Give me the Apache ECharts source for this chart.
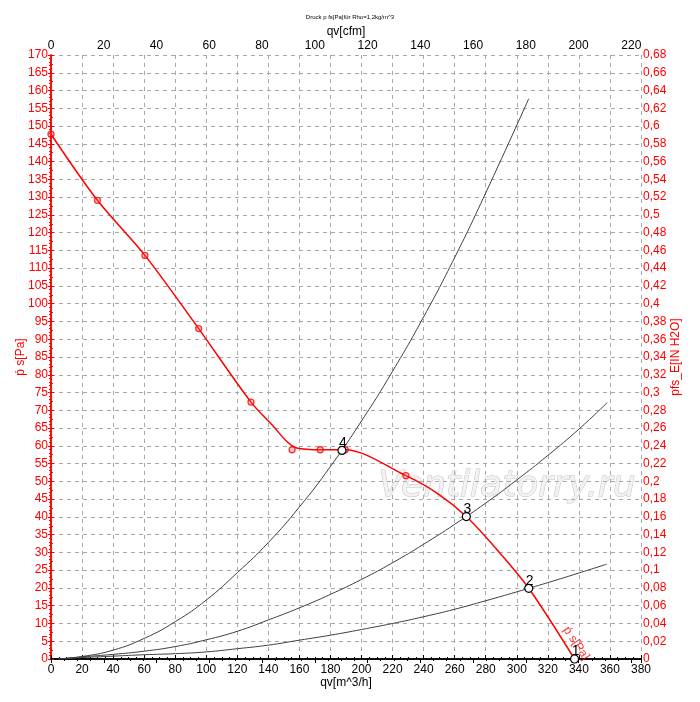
<!DOCTYPE html>
<html>
<head>
<meta charset="utf-8">
<script src="https://cdn.jsdelivr.net/npm/echarts@6/dist/echarts.min.js"></script>
<style>
  html, body { margin: 0; padding: 0; background: #fff; }
  #chart { width: 700px; height: 702px; }
</style>
</head>
<body>
<div id="chart"></div>
<script>
// fan curve (red), qv in m^3/h, static pressure in Pa
const fanFlow = [0, 29.9, 60.5, 95.1, 128.8, 143.2, 151.9, 158.3, 173.4, 189.5, 228.6, 248.6, 267.5, 287.4, 307.7, 337.2];
const fanPressure = [147.7, 129.1, 113.6, 93.0, 72.3, 65.5, 61.2, 59.4, 58.9, 58.9, 51.6, 46.7, 40.1, 30.7, 19.9, 0];
// measured points on the fan curve (red circles)
const markFlow = [0, 29.9, 60.5, 95.1, 128.8, 155.3, 173.4, 189.5, 228.6];
const markPressure = [147.7, 129.1, 113.6, 93.0, 72.3, 58.9, 58.9, 58.9, 51.6];

// system curves (black)
const sys4Flow = [5, 20, 40, 60, 80, 100, 120, 140, 160, 180, 200, 220, 240, 260, 280, 307.7];
const sys4Pressure = [0, 0.7, 2.5, 5.8, 10.5, 16.6, 24.3, 32.8, 42.8, 54.2, 67.0, 81.0, 96.3, 113.0, 131.2, 157.7];
const sys3Flow = [5, 20, 40, 60, 80, 100, 120, 140, 160, 180, 200, 220, 240, 260, 280, 300, 320, 340, 358.3];
const sys3Pressure = [0, 0.6, 1.3, 2.2, 3.5, 5.4, 7.8, 11.0, 14.4, 18.2, 22.4, 27.1, 32.3, 37.9, 43.9, 50.4, 57.3, 64.7, 72.2];
const sys2Flow = [5, 20, 40, 60, 80, 100, 120, 140, 160, 180, 200, 220, 240, 260, 280, 300, 320, 340, 358];
const sys2Pressure = [0, 0.4, 0.8, 1.2, 1.5, 2.0, 2.9, 3.9, 5.3, 6.7, 8.3, 10.0, 11.9, 14.0, 16.4, 18.9, 21.5, 24.2, 26.7];

// operating points
const opFlow = [337.2, 307.7, 267.5, 187.4];
const opPressure = [0, 19.9, 40.1, 58.7];
const opLabels = ['1', '2', '3', '4'];

const font = 'Liberation Sans, Arial, sans-serif';
const red = '#ff0000';

const pairs = (xs, ys) => xs.map((x, i) => [x, ys[i]]);
const last = fanFlow.length - 1;

const chart = echarts.init(document.getElementById('chart'));

chart.setOption({
  animation: false,
  backgroundColor: '#fff',
  textStyle: { fontFamily: font },
  title: {
    text: 'Druck p fs[Pa]für Rho=1,2kg/m^3',
    left: 'center',
    top: 9,
    textStyle: { fontSize: 6, fontWeight: 'normal', color: '#000', fontFamily: font }
  },
  graphic: [{
    type: 'text',
    left: 378,
    top: 468,
    z: 0,
    style: {
      text: 'Ventilatorry.ru',
      font: 'oblique 36px DejaVu Sans, sans-serif',
      fill: '#f2f2f2',
      stroke: '#c4c4c4',
      lineWidth: 1
    }
  }],
  grid: { left: 51, right: 59, top: 55, bottom: 43 },
  xAxis: [{
    type: 'value',
    position: 'bottom',
    min: 0, max: 380, interval: 20,
    name: 'qv[m^3/h]',
    nameLocation: 'middle',
    nameGap: 18,
    nameMoveOverlap: false,
    nameTextStyle: { color: '#000', fontSize: 12, fontFamily: font },
    axisLine: { lineStyle: { color: '#000', width: 1.5 } },
    axisTick: { inside: true, length: 4, lineStyle: { color: '#000' } },
    minorTick: { show: true, splitNumber: 4, length: 2, lineStyle: { color: '#000' } },
    axisLabel: { color: '#000', fontSize: 12, margin: 5, fontFamily: font },
    splitLine: { show: true, lineStyle: { color: '#a8a8a8', type: [4, 4] } }
  }, {
    type: 'value',
    position: 'top',
    min: 0, max: 223.66, interval: 20,
    name: 'qv[cfm]',
    nameLocation: 'middle',
    nameGap: 17,
    nameMoveOverlap: false,
    nameTextStyle: { color: '#000', fontSize: 12, fontFamily: font },
    axisLine: { lineStyle: { color: '#000', width: 1.5 } },
    axisTick: { inside: true, length: 4, lineStyle: { color: '#000' } },
    minorTick: { show: true, splitNumber: 4, length: 2, lineStyle: { color: '#000' } },
    axisLabel: {
      color: '#000', fontSize: 12, margin: 3, fontFamily: font,
      formatter: v => (Math.abs(v % 20) < 1e-6 ? String(v) : '')
    },
    splitLine: { show: false }
  }],
  yAxis: [{
    type: 'value',
    position: 'left',
    min: 0, max: 170, interval: 5,
    name: 'ṕ s[Pa]',
    nameLocation: 'middle',
    nameGap: 24,
    nameMoveOverlap: false,
    nameTextStyle: { color: red, fontSize: 12, fontFamily: font },
    axisLine: { show: true, lineStyle: { color: red, width: 1.5 } },
    axisTick: { show: true, length: 3, lineStyle: { color: red } },
    minorTick: { show: true, splitNumber: 5, length: 2, lineStyle: { color: red } },
    axisLabel: { color: red, fontSize: 12, margin: 3, fontFamily: font },
    splitLine: { show: true, lineStyle: { color: '#a8a8a8', type: [4, 4] } }
  }, {
    type: 'value',
    position: 'right',
    min: 0, max: 0.68, interval: 0.02,
    name: 'pfs_E[IN H2O]',
    nameLocation: 'middle',
    nameGap: 29,
    nameMoveOverlap: false,
    nameTextStyle: { color: red, fontSize: 12, fontFamily: font },
    axisLine: { show: true, lineStyle: { color: red, width: 1.5 } },
    axisTick: { show: true, length: 3, lineStyle: { color: red } },
    minorTick: { show: true, splitNumber: 2, length: 2, lineStyle: { color: red } },
    axisLabel: {
      color: red, fontSize: 12, margin: 2, fontFamily: font,
      formatter: v => String(Number(v.toFixed(2))).replace('.', ',')
    },
    splitLine: { show: false }
  }],
  series: [{
    name: 'sys4',
    type: 'line',
    smooth: true,
    showSymbol: false,
    lineStyle: { color: '#404040', width: 1 },
    data: pairs(sys4Flow, sys4Pressure),
    z: 3
  }, {
    name: 'sys3',
    type: 'line',
    smooth: true,
    showSymbol: false,
    lineStyle: { color: '#404040', width: 1 },
    data: pairs(sys3Flow, sys3Pressure),
    z: 3
  }, {
    name: 'sys2',
    type: 'line',
    smooth: true,
    showSymbol: false,
    lineStyle: { color: '#404040', width: 1 },
    data: pairs(sys2Flow, sys2Pressure),
    z: 3
  }, {
    name: 'fan',
    type: 'line',
    smooth: 0.3,
    showSymbol: false,
    lineStyle: { color: red, width: 1.5 },
    data: pairs(fanFlow, fanPressure),
    z: 4
  }, {
    // curve name written along the end of the fan curve
    name: 'fanName',
    type: 'scatter',
    symbolSize: 1,
    itemStyle: { color: 'rgba(0,0,0,0)' },
    label: {
      show: true,
      formatter: 'ṕ s[Pa]',
      position: 'inside',
      offset: [-12, -10],
      rotate: -56,
      color: red,
      fontSize: 12,
      fontFamily: font
    },
    data: [[fanFlow[last], fanPressure[last]]],
    z: 4
  }, {
    name: 'fanPoints',
    type: 'scatter',
    symbol: 'circle',
    symbolSize: 6,
    itemStyle: { color: 'rgba(255,80,80,0.35)', borderColor: red, borderWidth: 1.3 },
    data: pairs(markFlow, markPressure),
    z: 4
  }, {
    name: 'points',
    type: 'scatter',
    symbol: 'circle',
    symbolSize: 8,
    itemStyle: { color: '#fff', borderColor: '#000', borderWidth: 1.2, opacity: 1 },
    label: {
      show: true,
      position: 'top',
      distance: 0,
      offset: [1, 4],
      color: '#000',
      fontSize: 14,
      fontFamily: font,
      formatter: p => opLabels[p.dataIndex]
    },
    data: pairs(opFlow, opPressure),
    z: 5
  }]
});

window.onresize = chart.resize;
</script>
</body>
</html>
